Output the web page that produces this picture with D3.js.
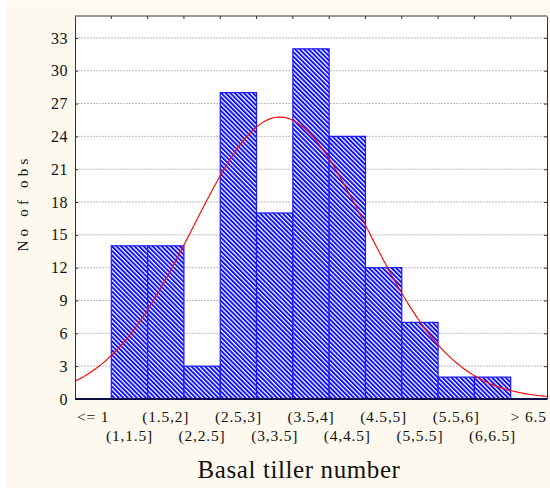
<!DOCTYPE html>
<html>
<head>
<meta charset="utf-8">
<script src="https://cdn.jsdelivr.net/npm/d3@7/dist/d3.min.js"></script>
<style>
html,body{margin:0;padding:0;background:#ffffff;}
svg{display:block;}
text{font-family:"Liberation Serif","Times New Roman",serif;fill:#111;}
</style>
</head>
<body>
<svg id="chart" width="550" height="490"></svg>
<script>
// ---- data ----
const categories = ["<= 1","(1,1.5]","(1.5,2]","(2,2.5]","(2.5,3]","(3,3.5]","(3.5,4]","(4,4.5]","(4.5,5]","(5,5.5]","(5.5,6]","(6,6.5]","> 6.5"];
const counts = [0,14,14,3,28,17,32,24,12,7,2,2,0];
const yTicks = [0,3,6,9,12,15,18,21,24,27,30,33];
const xTitle = "Basal tiller number";
const yTitle = "No of obs";
// normal fit parameters (value units)
const fitMean = 3.32;
const fitSd = 1.2;
const binWidth = 0.5;
const firstEdge = 1.0; // upper edge of "<= 1"

const svg = d3.select("#chart");
const W = 550, H = 490;
const m = {left:75, right:3, top:16, bottom:91};
const pw = W - m.left - m.right, ph = H - m.top - m.bottom;
const serif = "'Liberation Serif','Times New Roman',serif";

svg.append("rect").attr("x",7).attr("y",1).attr("width",543).attr("height",487).attr("fill","#fdf9ef");

const defs = svg.append("defs");
const pat = defs.append("pattern").attr("id","hatch").attr("patternUnits","userSpaceOnUse")
  .attr("width",3.2).attr("height",3.2).attr("patternTransform","rotate(-45)");
pat.append("rect").attr("width",3.2).attr("height",3.2).attr("fill","#ffffff");
pat.append("rect").attr("x",0).attr("y",0).attr("width",1.9).attr("height",3.2).attr("fill","#0a0aff");

const g = svg.append("g").attr("transform",`translate(${m.left},${m.top})`);
g.append("rect").attr("width",pw).attr("height",ph).attr("fill","#ffffff");

const x = d3.scaleBand().domain(categories).range([0,pw]).padding(0);
const y = d3.scaleLinear().domain([0,35]).range([ph,0]);

// gridlines
g.append("g").selectAll("line").data(yTicks.filter(d=>d>0)).join("line")
  .attr("x1",0).attr("x2",pw).attr("y1",d=>y(d)).attr("y2",d=>y(d))
  .attr("stroke","#bdbdbd").attr("stroke-width",1).attr("stroke-dasharray","2,1");

// bars
g.append("g").selectAll("rect").data(categories.map((c,i)=>({c,v:counts[i]})).filter(d=>d.v>0)).join("rect")
  .attr("x",d=>x(d.c)).attr("y",d=>y(d.v)).attr("width",x.bandwidth()).attr("height",d=>ph-y(d.v))
  .attr("fill","url(#hatch)").attr("stroke","#1818ff").attr("stroke-width",1.2);

// normal fit curve
const total = d3.sum(counts);
const posToVal = p => firstEdge - binWidth + binWidth*p; // p in slot units from left
const slotW = x.bandwidth();
const pts = d3.range(0, categories.length+0.001, 0.05).map(p=>{
  const v = posToVal(p);
  const z = (v-fitMean)/fitSd;
  const dens = total*binWidth/(fitSd*Math.sqrt(2*Math.PI))*Math.exp(-0.5*z*z);
  return [p*slotW, y(dens)];
});
g.append("path").attr("d",d3.line()(pts)).attr("fill","none").attr("stroke","#ff0000").attr("stroke-width",1.1);

// axes
const yAxisL = d3.axisLeft(y).tickValues(yTicks).tickSizeInner(-3).tickSizeOuter(0).tickPadding(7);
const gl = g.append("g").call(yAxisL).attr("font-family",serif).attr("font-size",16);
gl.select(".domain").attr("stroke","#333");
gl.selectAll(".tick line").attr("stroke","#333");
gl.selectAll("text").attr("fill","#111").attr("letter-spacing","0.5px");

const yAxisR = d3.axisRight(y).tickValues(yTicks).tickSizeInner(-3).tickSizeOuter(0).tickFormat("");
const gr = g.append("g").attr("transform",`translate(${pw},0)`).call(yAxisR);
gr.select(".domain").attr("stroke","#333");
gr.selectAll(".tick line").attr("stroke","#333");

const bounds = d3.range(1,categories.length).map(i=>i*slotW);
const gt = g.append("g");
gt.append("line").attr("x1",0).attr("x2",pw).attr("y1",0).attr("y2",0).attr("stroke","#333");
gt.selectAll("line.tk").data(bounds).join("line").attr("class","tk")
  .attr("x1",d=>d).attr("x2",d=>d).attr("y1",0).attr("y2",3).attr("stroke","#333");

// bottom axis
const xAxis = d3.axisBottom(x).tickSize(0).tickPadding(0);
const gb = g.append("g").attr("transform",`translate(0,${ph})`).call(xAxis)
  .attr("font-family",serif).attr("font-size",15.5);
gb.select(".domain").remove();
gb.append("line").attr("x1",0).attr("x2",pw).attr("y1",0).attr("y2",0).attr("stroke","#10104a").attr("stroke-width",2);
gb.selectAll(".tick text")
  .attr("fill","#111")
  .attr("letter-spacing","0.8px")
  .attr("dy",null)
  .attr("y",(d,i)=> i%2===0 ? 23 : 42);

// titles
svg.append("text").attr("x",299).attr("y",478).attr("text-anchor","middle")
  .attr("font-family",serif).attr("font-size",25).attr("letter-spacing","0.6px").text(xTitle);
svg.append("text").attr("transform","translate(28,203) rotate(-90)").attr("text-anchor","middle")
  .attr("font-family",serif).attr("font-size",15).attr("letter-spacing","4.2px").text(yTitle);
</script>
</body>
</html>
